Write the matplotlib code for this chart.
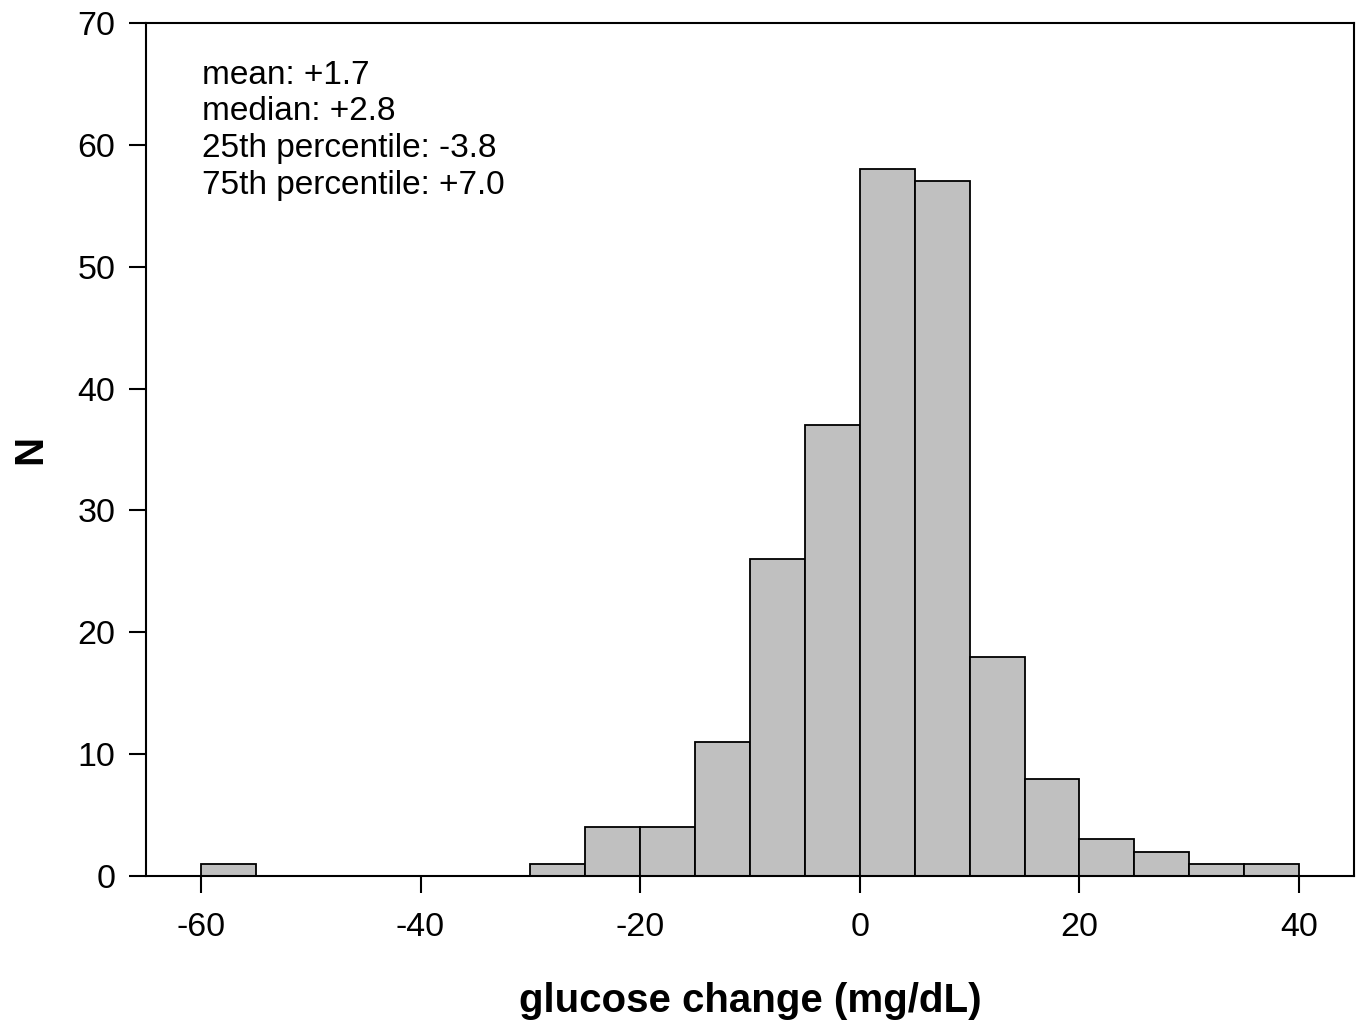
import numpy as np
import matplotlib
matplotlib.use('Agg')
import matplotlib.pyplot as plt

plt.rcParams['font.family'] = ['Liberation Sans', 'DejaVu Sans']
plt.rcParams['axes.unicode_minus'] = False

# histogram of glucose change, bins of 5 mg/dL
bin_left = [-60, -55, -50, -45, -40, -35, -30, -25, -20, -15, -10, -5,
            0, 5, 10, 15, 20, 25, 30, 35]
counts = [1, 0, 0, 0, 0, 0, 1, 4, 4, 11, 26, 37, 58, 57, 18, 8, 3, 2, 1, 1]
bin_width = 5

stats_text = ['mean: +1.7', 'median: +2.8',
              '25th percentile: -3.8', '75th percentile: +7.0']

xticks = [-60, -40, -20, 0, 20, 40]
yticks = [0, 10, 20, 30, 40, 50, 60, 70]

fig = plt.figure(figsize=(13.63, 10.24), dpi=100)
ax = fig.add_axes([146/1363, 1-876/1024, (1354-146)/1363, (876-23)/1024])

left = np.array(bin_left)
h = np.array(counts)
keep = h > 0
ax.bar(left[keep], h[keep], width=bin_width, align='edge',
       color='#c0c0c0', edgecolor='black', linewidth=1.3)

ax.set_xlim(-65, 45)
ax.set_ylim(0, 70)
ax.set_xticks(xticks)
ax.set_yticks(yticks)
ax.tick_params(direction='out', length=12, width=1.5, labelsize=24.5)
ax.tick_params(axis='x', pad=14)
ax.tick_params(axis='y', pad=10)
for s in ax.spines.values():
    s.set_linewidth(1.5)

ax.text(0.0464, 0.957, '\n'.join(stats_text), transform=ax.transAxes,
        fontsize=24, va='top', ha='left', linespacing=1.24)

ax.set_xlabel('glucose change (mg/dL)', fontsize=29, fontweight='bold', labelpad=28)
ax.set_ylabel('N', fontsize=29, fontweight='bold', labelpad=20)

fig.savefig('out.png', dpi=100)
